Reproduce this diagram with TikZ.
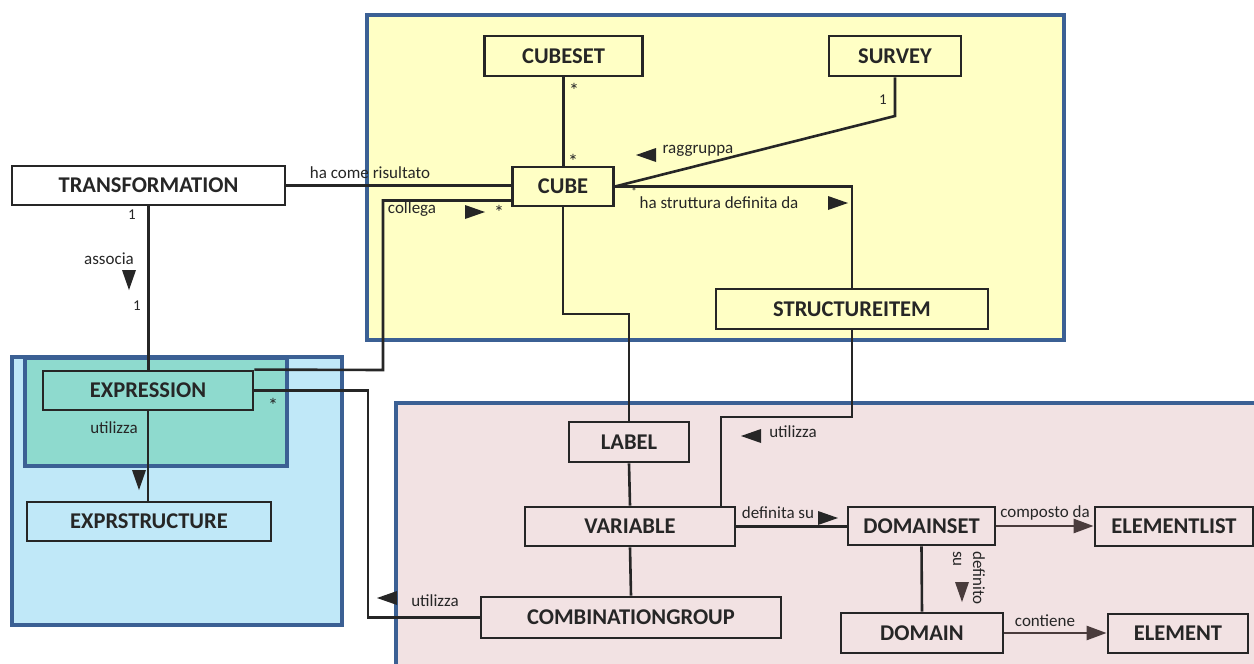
\documentclass[tikz,border=0pt]{standalone}
\usepackage{fontspec}
\setmainfont{Carlito}
\usetikzlibrary{arrows.meta}
\definecolor{ink}{HTML}{262626}
\definecolor{brd}{HTML}{3B6094}
\definecolor{yel}{HTML}{FFFFC5}
\definecolor{blu}{HTML}{C0E8F8}
\definecolor{tea}{HTML}{8EDACE}
\definecolor{pnk}{HTML}{F2E2E3}
\definecolor{brn}{HTML}{4A3C3C}
\tikzset{
  region/.style={draw=brd, line width=3.5pt},
  cls/.style={draw=ink, line width=2.8pt, text=ink, inner sep=0pt,
    font=\fontsize{22.5}{25}\selectfont\bfseries},
  conn/.style={draw=ink, line width=2.6pt},
  lbl/.style={text=ink, inner sep=0pt, font=\fontsize{17}{20}\selectfont},
  mult/.style={text=ink, inner sep=0pt, font=\fontsize{15}{17}\selectfont},
  star/.style={text=ink, inner sep=0pt, font=\fontsize{20}{22}\selectfont},
  tri/.pic={\fill[pic actions] (-10,-7) -- (10,0) -- (-10,7) -- cycle;},
}
\begin{document}
\begin{tikzpicture}[x=1pt,y=-1pt]
\useasboundingbox (0,0) rectangle (1254,664);
\clip (0,0) rectangle (1254,664);
% regions
\fill[white] (0,0) rectangle (1254,664);
\path[region, fill=yel] (367,15) rectangle (1064,340);
\path[region, fill=blu] (12,357) rectangle (342,625);
\path[region, fill=tea] (25,358) rectangle (287,466);
\path[region, fill=pnk] (396,403) rectangle (1270,680);
% classes
\node[cls, minimum width=158pt, minimum height=40pt] (cubeset) at (563.5,56) {CUBESET};
\node[cls, minimum width=132pt, minimum height=40pt] (survey) at (895,56) {SURVEY};
\node[cls, minimum width=101pt, minimum height=39pt] (cube) at (563,186.5) {CUBE};
\node[cls, minimum width=273pt, minimum height=39pt] (transf) at (148.5,185.5) {TRANSFORMATION};
\node[cls, minimum width=272pt, minimum height=40pt] (sitem) at (852,309) {STRUCTUREITEM};
\node[cls, minimum width=210pt, minimum height=39pt] (expr) at (148,390.5) {EXPRESSION};
\node[cls, minimum width=244pt, minimum height=39pt] (exprs) at (149,521.5) {EXPRSTRUCTURE};
\node[cls, minimum width=120pt, minimum height=40pt] (label) at (629,442) {LABEL};
\node[cls, minimum width=210pt, minimum height=39pt] (var) at (630,526.5) {VARIABLE};
\node[cls, minimum width=300pt, minimum height=41pt] (comb) at (631,617.5) {COMBINATIONGROUP};
\node[cls, minimum width=147pt, minimum height=38pt] (dset) at (921.5,526) {DOMAINSET};
\node[cls, minimum width=158pt, minimum height=39pt] (elist) at (1174,526.5) {ELEMENTLIST};
\node[cls, minimum width=162pt, minimum height=40pt] (dom) at (922,633) {DOMAIN};
\node[cls, minimum width=140pt, minimum height=39pt] (elem) at (1178,633.5) {ELEMENT};
% helper coordinates
\coordinate (sv) at (895,116);
\coordinate (cl) at (383,370);
\coordinate (u1) at (368,500);
\coordinate (c1) at (600,314);
\coordinate (s1) at (780,417);
% connectors
\draw[conn] (cubeset.south) -- (cubeset.south |- cube.north);
\draw[conn] (survey.south) -- (sv) -- (cube.east);
\draw[conn] (transf.east) -- (transf.east -| cube.west);
\draw[conn] ([yshift=-14pt]cube.west) -| (cl) -- (expr.north east);
\draw[conn] (cube.east) -| (sitem.north);
\draw[conn] (transf.south) -- (transf.south |- expr.north);
\draw[conn] (expr.south) -- (expr.south |- exprs.north);
\draw[conn] (expr.east) -| (u1) |- (comb.west);
\draw[conn] (cube.south) |- (c1) -| (label.north);
\draw[conn] (label.south) -- (var.north);
\draw[conn] (sitem.south) |- (s1) -| ([xshift=91pt]var.north);
\draw[conn] (var.east) -- (var.east -| dset.west);
\draw[conn] (var.south) -- (comb.north);
\draw[conn] (dset.south) -- (dom.north);
\draw[conn, draw=brn, -{Triangle[length=20pt,width=14pt]}] (dset.east) -- (dset.east -| elist.west);
\draw[conn, draw=brn, -{Triangle[length=20pt,width=14pt]}] (dom.east) -- (dom.east -| elem.west);
% direction triangles
\pic[fill=ink, rotate=180] at (646,155) {tri};
\pic[fill=ink] at (838,203) {tri};
\pic[fill=ink] at (475,212) {tri};
\pic[fill=ink, rotate=-90] at (129,280) {tri};
\pic[fill=ink, rotate=-90] at (139,480) {tri};
\pic[fill=ink, rotate=180] at (387,598) {tri};
\pic[fill=ink, rotate=180] at (751,436) {tri};
\pic[fill=ink] at (828,518) {tri};
\pic[fill=brn, rotate=-90] at (962,592) {tri};
% labels
\node[lbl] (l1) at (370,173) {ha come risultato};
\node[lbl] (l2) at (698,151) {raggruppa};
\node[lbl] (l3) at (719,203) {ha struttura definita da};
\node[lbl] (l4) at (412,209) {collega};
\node[lbl] (l5) at (109,259) {associa};
\node[lbl] (l6) at (114,428) {utilizza};
\node[lbl] (l7) at (435,601) {utilizza};
\node[lbl] (l8) at (793,432) {utilizza};
\node[lbl] (l9) at (778,513) {definita su};
\node[lbl] (l10) at (1045,513) {composto da};
\node[lbl] (l11) at (1045,621) {contiene};
\node[lbl, rotate=-90, anchor=north west, align=left] (l12) at (985,551) {definito\\su};
% multiplicities
\node[star] (m1) at (574,90) {*};
\node[star] (m2) at (573,161) {*};
\node[mult] (m3) at (883,100) {1};
\node[star] (m4) at (499,212) {*};
\node[mult, font=\fontsize{11}{12}\selectfont] (m5) at (634,192) {*};
\node[mult] (m6) at (132,215) {1};
\node[mult] (m7) at (137,306) {1};
\node[star] (m8) at (273,405) {*};
\end{tikzpicture}
\end{document}
